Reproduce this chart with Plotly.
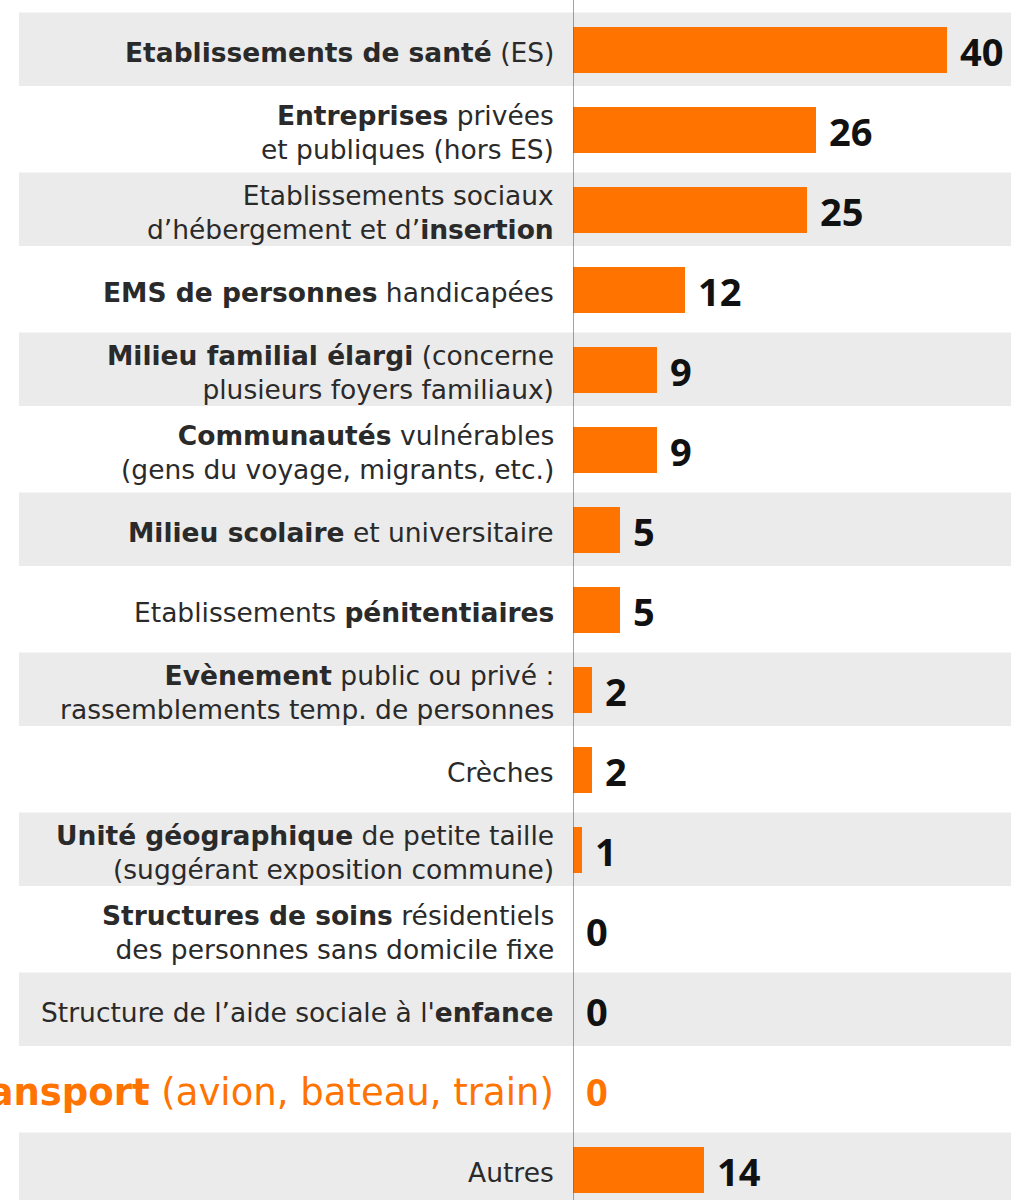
import plotly.graph_objects as go

categories = [
    "<b>Etablissements de santé</b> (ES)",
    "<b>Entreprises</b> privées<br>et publiques (hors ES)",
    "Etablissements sociaux<br>d’hébergement et d’<b>insertion</b>",
    "<b>EMS de personnes</b> handicapées",
    "<b>Milieu familial élargi</b> (concerne<br>plusieurs foyers familiaux)",
    "<b>Communautés</b> vulnérables<br>(gens du voyage, migrants, etc.)",
    "<b>Milieu scolaire</b> et universitaire",
    "Etablissements <b>pénitentiaires</b>",
    "<b>Evènement</b> public ou privé :<br>rassemblements temp. de personnes",
    "Crèches",
    "<b>Unité géographique</b> de petite taille<br>(suggérant exposition commune)",
    "<b>Structures de soins</b> résidentiels<br>des personnes sans domicile fixe",
    "Structure de l’aide sociale à l'<b>enfance</b>",
    "<b>Transport</b> (avion, bateau, train)",
    "Autres",
]
values = [40, 26, 25, 12, 9, 9, 5, 5, 2, 2, 1, 0, 0, 0, 14]
highlight = [False] * 13 + [True, False]

ORANGE = "#FF7300"
GRAY_BAND = "#EBEBEB"
LABEL_FONT = "DejaVu Sans"
VALUE_FONT = "Open Sans"

positions = list(range(len(categories)))

fig = go.Figure()
fig.add_trace(go.Bar(
    x=values, y=positions, orientation="h",
    marker=dict(color=ORANGE, line=dict(width=0)),
    width=0.58, hoverinfo="skip",
))

shapes = []
for i in positions:
    if i % 2 == 0:
        shapes.append(dict(type="rect", xref="paper", yref="y",
                           x0=-1.265, x1=1.0, y0=i - 0.47, y1=i + 0.45,
                           fillcolor=GRAY_BAND, line=dict(width=0), layer="below"))
shapes.append(dict(type="line", xref="x", yref="paper", x0=0, x1=0, y0=0, y1=1,
                   line=dict(color="#666666", width=1.2)))

annotations = []
for i, (cat, v, hl) in enumerate(zip(categories, values, highlight)):
    annotations.append(dict(
        x=0, y=i, xref="x", yref="y", text=cat, showarrow=False,
        xanchor="right", yanchor="middle", align="right", xshift=-17, yshift=-2,
        font=dict(family=LABEL_FONT, size=37 if hl else 26.5,
                  color=ORANGE if hl else "#2a2a2a"),
    ))
    annotations.append(dict(
        x=v, y=i, xref="x", yref="y", text=f"<b>{v}</b>", showarrow=False,
        xanchor="left", yanchor="middle", xshift=11, yshift=-1,
        font=dict(family=VALUE_FONT, size=38, color=ORANGE if hl else "#111111"),
    ))

fig.update_layout(
    width=1011, height=1200,
    margin=dict(l=573, r=0, t=0, b=0),
    paper_bgcolor="white", plot_bgcolor="rgba(0,0,0,0)",
    showlegend=False,
    shapes=shapes, annotations=annotations,
    xaxis=dict(range=[0, 46.85], visible=False, fixedrange=True),
    yaxis=dict(range=[14.375, -0.625], visible=False, fixedrange=True),
    bargap=0,
)

fig.write_html("out.html", config={"displayModeBar": False},
               post_script="document.body.style.margin='0';")
